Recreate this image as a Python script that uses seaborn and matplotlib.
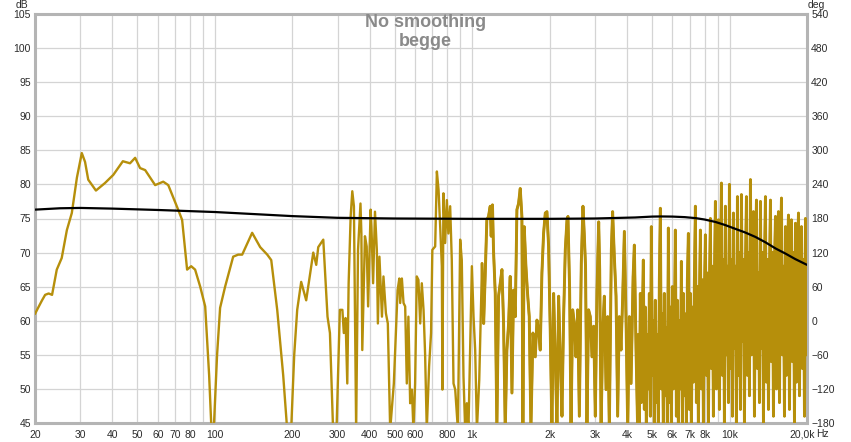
import matplotlib
matplotlib.use("Agg")
import matplotlib.pyplot as plt
import matplotlib.ticker as mticker
import matplotlib.transforms as mtransforms
import pandas as pd
import seaborn as sns

# gold trace (Hz, dB); 44 means "below the bottom of the plot"
low_freq = [20, 20.5, 21.3, 21.9, 22.6, 23.3, 24.3, 25.4, 26.6, 27.8, 29.1, 30.4, 31.3, 32.2, 34.5,
            37.4, 40.3, 43.9, 46.8, 49.0, 51.2, 53.6, 58.6, 63.0, 65.9, 71.3, 74.6, 78.0, 80.9, 83.8,
            87.7, 91.7, 95.0, 97.0, 99.0, 102, 104.8, 109.6, 117.8, 123.2, 127.7, 139.6, 150.0, 159.8,
            165.6, 174.7, 184.3, 191.0, 197.9, 203.4, 208.9, 216.5, 226.4, 241.2, 247.7, 252.2, 263.8]
low_db = [61.0, 61.8, 63.0, 63.8, 64.0, 63.8, 67.5, 69.2, 73.3, 75.8, 81.0, 84.6, 83.3, 80.7, 79.1,
          80.2, 81.4, 83.4, 83.1, 83.9, 82.4, 82.1, 79.9, 80.4, 79.9, 76.7, 74.8, 67.5, 68.0, 67.5,
          65.0, 62.1, 52.0, 44, 44, 55, 61.9, 65.0, 69.4, 69.7, 69.7, 72.9, 70.8, 69.7,
          68.9, 61.6, 52, 44, 44, 55, 61.6, 65.7, 63.0, 70.0, 68.2, 70.8, 71.9]

mid_freq = [274, 280, 288, 297, 306, 313, 317, 322, 327, 331, 337, 342, 347, 354, 360, 368, 371, 374,
            383, 389, 394, 403, 406, 412, 419, 426, 430, 436, 446, 452, 462, 470, 480, 496, 513, 521,
            525, 533, 541, 549, 557, 565, 574, 583, 591, 600, 609, 618, 628, 637, 647, 656, 666, 680,
            692, 700, 718, 729, 740, 751, 762, 766, 773, 785, 797, 808, 821, 833, 846, 859, 880, 898,
            911, 925, 939, 953, 967, 997, 1012, 1027, 1043, 1065]
mid_db = [60.6, 58.2, 44, 44, 61.6, 61.6, 58.2, 60.4, 50.8, 65.5, 75.3, 79.0, 76.8, 44, 70.4, 77.2, 72.8, 55.7,
          72.4, 70.9, 62.1, 76.3, 73.8, 65.5, 76.0, 70.4, 59.6, 69.4, 60.6, 66.5, 61.1, 59.6, 44, 50.8, 64.5, 66.2,
          62.6, 66.2, 62.6, 62.1, 50.8, 60.6, 47.9, 49.9, 44, 50.8, 66.5, 66.0, 59.6, 65.5, 61.6, 55.2, 44, 53.3,
          58.2, 70.4, 70.9, 81.9, 79.2, 73.8, 68.0, 49.9, 78.7, 71.4, 77.7, 72.8, 76.8, 68.9, 50.8, 49.9, 44, 71.9,
          68.9, 51.8, 44, 47.9, 44, 68.0, 60.6, 55.7, 44, 51.3]

upper_freq = [1092, 1108, 1123, 1140, 1157, 1175, 1185, 1199, 1210, 1229, 1247, 1266, 1285, 1305, 1324,
              1344, 1364, 1385, 1405, 1427, 1448, 1470, 1492, 1514, 1537, 1560, 1574, 1593, 1617, 1641,
              1666, 1691, 1722, 1758, 1785, 1811, 1838, 1866, 1894, 1923, 1952, 1981, 2011, 2041, 2072,
              2103, 2135, 2167, 2199, 2233, 2266, 2300, 2335, 2356, 2391, 2421, 2457, 2494, 2531, 2570,
              2608, 2654, 2694, 2725, 2757, 2792, 2833, 2877, 2921, 2965, 3009, 3055, 3101, 3129, 3169,
              3216, 3262, 3312, 3362, 3411, 3473, 3513, 3567, 3622, 3675, 3729, 3787, 3842, 3902, 3963,
              4021, 4080, 4143, 4220, 4267, 4332, 4395]
upper_db = [68.4, 59.6, 66.5, 74.8, 75.3, 76.8, 72.4, 77.0, 70.4, 64.0, 44, 63.6, 65.5, 67.5, 59.6,
            44, 55.7, 59.6, 66.5, 49.4, 64.5, 60.6, 76.3, 77.2, 79.4, 75.3, 44, 73.8, 68.0, 64.0,
            60.6, 44, 58.2, 54.7, 60.1, 58.7, 55.7, 67.0, 72.8, 75.8, 76.0, 70.9, 58.2, 44, 64.0,
            54.7, 44, 63.6, 54.7, 46, 60.6, 70.4, 74.8, 75.3, 64.5, 44, 61.6, 59.6, 54.7, 61.6,
            46, 68.4, 76.8, 72.8, 68.0, 44, 61.6, 60.6, 54.7, 59.2, 46, 64.5, 74.5, 67.5, 44,
            58.7, 63.6, 49.9, 60.6, 44, 70.4, 76.0, 69.4, 63.6, 46, 60.6, 55.7, 63.1, 73.1, 59.6,
            44, 60.6, 50.8, 66.5, 71.1, 55.7, 44]

high_freq = [4422, 4462, 4502, 4542, 4583, 4624, 4666, 4708, 4750, 4793, 4836, 4880, 4924, 4968, 5013,
             5058, 5103, 5149, 5195, 5242, 5289, 5337, 5385, 5433, 5482, 5531, 5581, 5632, 5682, 5733,
             5785, 5837, 5890, 5943, 5996, 6050, 6104, 6159, 6215, 6271, 6327, 6384, 6442, 6500, 6558,
             6617, 6677, 6737, 6797, 6858, 6920, 6982, 7045, 7108, 7172, 7237, 7302, 7368, 7434, 7501,
             7568, 7636, 7705, 7774, 7844, 7915, 7986, 8058, 8130, 8203, 8277, 8352, 8427, 8503, 8579,
             8656, 8734, 8813, 8892, 8972, 9053, 9134, 9217, 9300, 9383, 9468, 9553, 9639, 9726, 9813,
             9902, 9991, 10080, 10171, 10263, 10355, 10448, 10542, 10637, 10733, 10829, 10926, 11025,
             11124, 11224, 11325, 11427, 11530, 11634, 11738, 11844, 11950, 12058, 12166, 12276, 12386,
             12497, 12610, 12723, 12838, 12953, 13070, 13187, 13306, 13426, 13546, 13668, 13791, 13915,
             14040, 14166, 14294, 14422, 14552, 14683, 14815, 14948, 15083, 15218, 15355, 15493, 15633,
             15773, 15915, 16058, 16203, 16348, 16495, 16644, 16793, 16944, 17097, 17250, 17405, 17562,
             17720, 17879, 18040, 18202, 18366, 18531, 18698, 18866, 19036, 19207, 19380, 19554, 19730,
             19907, 20000]
high_db = [58, 45, 64, 48, 60, 68.9, 47, 62, 44, 58, 50, 64, 46, 73.8, 52,
           60, 44, 63, 48, 58, 44, 66, 76.5, 50, 61, 44, 64, 49, 59, 45,
           73.6, 48, 62, 44, 65, 50, 58, 73.3, 46, 63, 44, 60, 50, 68.7, 45,
           64, 49, 61, 44, 66, 72.8, 47, 64, 44, 62, 51, 66, 76.8, 48, 65,
           44, 63, 73.3, 50, 66, 45, 64, 72.6, 52, 67, 44, 65, 75.0, 53, 68,
           46, 66, 77.5, 50, 68, 74.8, 47, 67, 80.2, 52, 69, 45, 76.8, 55, 68,
           48, 80.0, 53, 69, 46, 75.8, 56, 68, 44, 78.2, 52, 70, 47,
           78.5, 57, 69, 45, 68, 78.2, 52, 70, 49, 80.7, 55, 68, 76.0,
           46, 69, 77.7, 53, 67, 48, 77.5, 56, 70, 45, 68, 78.2, 51,
           69, 47, 67, 77.7, 54, 70, 46, 68, 75.3, 50, 69, 76.0, 48,
           70, 78.0, 55, 68, 46, 73.8, 52, 70, 75.5, 47, 69, 74.8, 54,
           70, 45, 74.3, 51, 69, 75.8, 49, 70, 73.8, 53, 69, 46, 75.0,
           55, 74.3]

# black trace (Hz, dB)
black_freq = [20, 25, 30, 40, 60, 100, 150, 200, 300, 500, 1000, 2000, 3000, 4300, 5000, 5400,
              6000, 6700, 7400, 8000, 8800, 9600, 10500, 11500, 12600, 13800, 15100, 16500, 18000, 20000]
black_db = [76.3, 76.5, 76.55, 76.45, 76.25, 75.95, 75.6, 75.35, 75.1, 75.0, 74.95, 74.95, 75.0,
            75.15, 75.28, 75.3, 75.28, 75.2, 75.05, 74.85, 74.5, 74.05, 73.5, 72.95, 72.3, 71.5,
            70.6, 69.85, 69.05, 68.2]

db_ticks = list(range(45, 106, 5))
deg_ticks = list(range(-180, 541, 60))
freq_ticks = [20, 30, 40, 50, 60, 70, 80, 100, 200, 300, 400, 500, 600, 800,
              1000, 2000, 3000, 4000, 5000, 6000, 7000, 8000, 10000, 20000]
freq_labels = ["20", "30", "40", "50", "60", "70", "80", "100", "200", "300", "400", "500", "600", "800",
               "1k", "2k", "3k", "4k", "5k", "6k", "7k", "8k", "10k", "20,0k"]
freq_grid_only = [90, 700, 900, 9000]

GOLD = "#B68F0B"
GRID = "#D4D4D4"
FRAME = "#B4B4B4"
TXT = "#2b2b2b"

sns.set_style("white")
plt.rcParams["font.family"] = ["Liberation Sans", "DejaVu Sans"]
plt.rcParams["path.simplify"] = False

gold = pd.DataFrame({"freq": low_freq + mid_freq + upper_freq + high_freq,
                     "db": low_db + mid_db + upper_db + high_db})
# the dense top end is drawn once more with a heavier stroke, as the reference looks nearly solid there
gold_dense = pd.DataFrame({"freq": upper_freq + high_freq, "db": upper_db + high_db})
black = pd.DataFrame({"freq": black_freq, "db": black_db})

W, H = 851, 442
fig = plt.figure(figsize=(W / 100, H / 100), dpi=100)
ax = fig.add_axes([35 / W, 1 - 423 / H, 772 / W, 409 / H])

sns.lineplot(data=gold, x="freq", y="db", color=GOLD, linewidth=1.7,
             estimator=None, sort=False, ax=ax, zorder=3)
sns.lineplot(data=gold_dense, x="freq", y="db", color=GOLD, linewidth=2.1,
             estimator=None, sort=False, ax=ax, zorder=3)
sns.lineplot(data=black, x="freq", y="db", color="black", linewidth=1.6,
             estimator=None, sort=False, ax=ax, zorder=4)

ax.set_xscale("log")
ax.set_xlim(20, 20000)
ax.set_ylim(45, 105)
ax.set_xticks(freq_ticks)
ax.set_xticklabels(freq_labels)
ax.xaxis.set_minor_locator(mticker.FixedLocator(freq_grid_only))
ax.xaxis.set_minor_formatter(mticker.NullFormatter())
ax.set_yticks(db_ticks)
ax.grid(True, which="both", color=GRID, linewidth=0.9, zorder=0)
ax.set_xlabel("")
ax.set_ylabel("")
ax.tick_params(axis="both", which="both", length=0, labelsize=7.5, colors=TXT)
ax.tick_params(axis="x", pad=5)
ax.tick_params(axis="y", pad=3)
for s in ax.spines.values():
    s.set_color(FRAME)
    s.set_linewidth(2.2)

# the last frequency label sits a little to the left, leaving room for "Hz"
last = ax.get_xticklabels()[-1]
last.set_transform(last.get_transform() + mtransforms.ScaledTranslation(-5 / 100, 0, fig.dpi_scale_trans))

ax2 = ax.twinx()
ax2.set_ylim(-180, 540)
ax2.set_yticks(deg_ticks)
ax2.tick_params(axis="y", length=0, labelsize=7.5, colors=TXT, pad=3)
for s in ax2.spines.values():
    s.set_visible(False)

fig.text(22 / W, 1 - 5 / H, "dB", ha="center", va="center", fontsize=7.5, color=TXT)
fig.text(816 / W, 1 - 5 / H, "deg", ha="center", va="center", fontsize=7.5, color=TXT)
fig.text(816 / W, 1 - 434 / H, "Hz", ha="left", va="center", fontsize=7.5, color=TXT)

ax.text(0.506, 0.978, "No smoothing", transform=ax.transAxes, ha="center", va="center",
        fontsize=13, fontweight="bold", color="#8A8A8A", zorder=5)
ax.text(0.506, 0.932, "begge", transform=ax.transAxes, ha="center", va="center",
        fontsize=13, fontweight="bold", color="#8A8A8A", zorder=5)

fig.savefig("out.png", dpi=100)
